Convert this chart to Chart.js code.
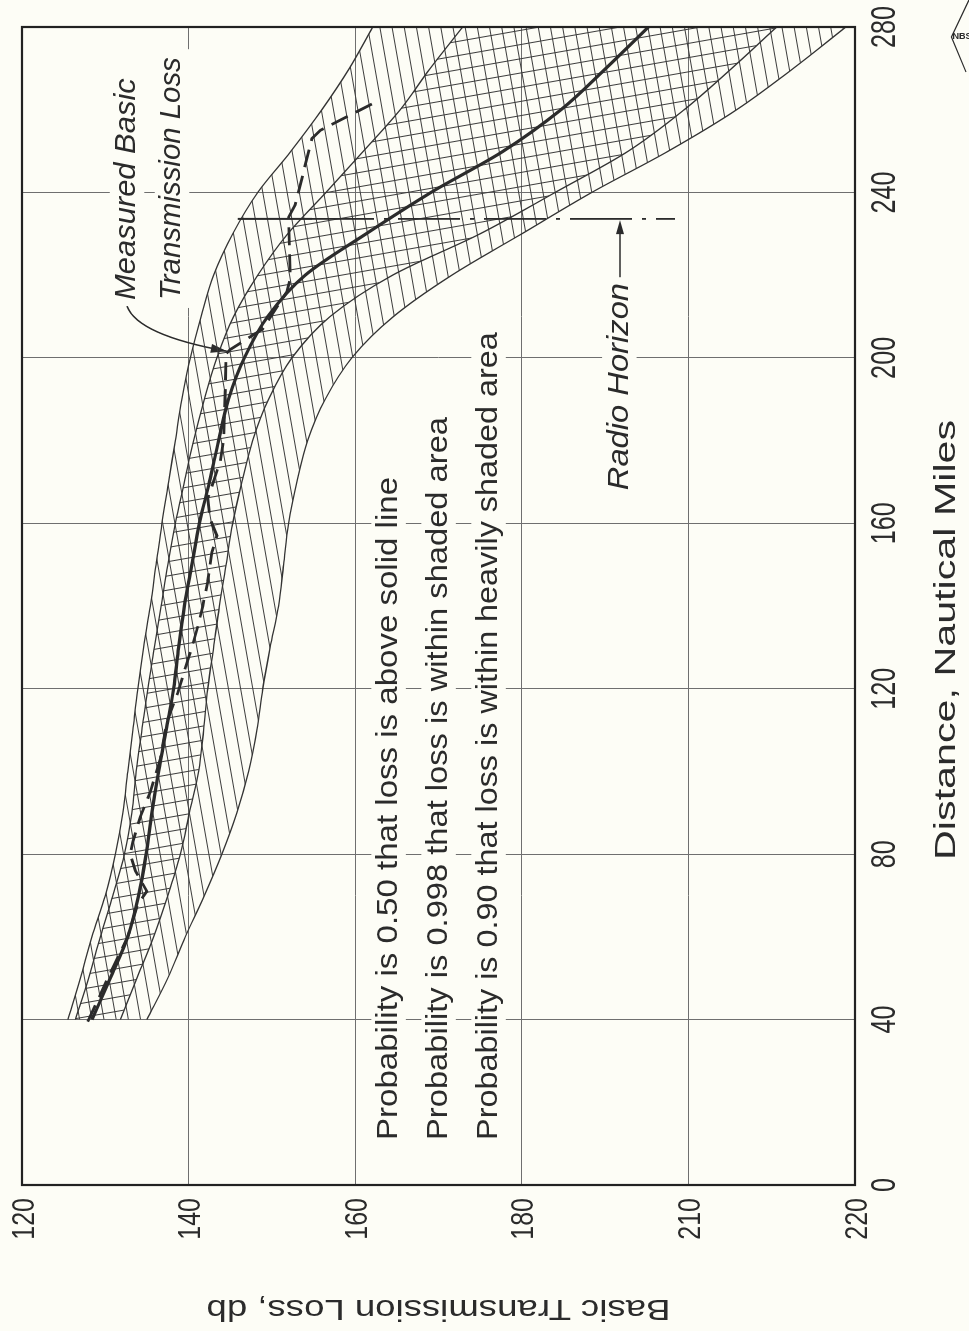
<!DOCTYPE html>
<html>
<head>
<meta charset="utf-8">
<title>Basic Transmission Loss vs Distance</title>
<script src="https://cdn.jsdelivr.net/npm/chart.js@4.4.1/dist/chart.umd.min.js"></script>
<style>
  html, body { margin: 0; padding: 0; background: #fdfdf6; overflow: hidden; }
  /* the figure is printed turned a quarter turn, so the whole canvas is turned */
  #turn { position: absolute; left: 0; top: 0; width: 1331px; height: 969px;
          transform-origin: 0 0; transform: translate(0, 1331px) rotate(-90deg); }
</style>
</head>
<body>
<div id="turn"><canvas id="lossChart" width="1331" height="969"></canvas></div>
<script>
// distance (nautical miles) where the prediction curves were read
const distances = [40, 50, 60, 70, 80, 90, 100, 110, 120, 130, 140, 150, 160, 170, 180, 190, 200, 210, 220, 230, 240, 250, 260, 270, 280];

// basic transmission loss, db
const medianLoss     = [128.4, 130.6, 132.7, 134.0, 134.9, 135.6, 136.4, 137.3, 138.2, 138.8, 139.5, 140.4, 141.3, 142.5, 143.6, 144.8, 146.7, 149.5, 154.0, 161.3, 169.1, 177.8, 184.7, 190.1, 195.2];
const inner90Upper   = [126.4, 128.0, 129.4, 130.9, 132.3, 133.2, 133.7, 134.4, 135.1, 135.9, 136.7, 137.5, 138.4, 139.5, 140.6, 141.9, 143.4, 145.4, 148.3, 151.9, 156.5, 161.0, 165.4, 169.0, 172.9];
const inner90Lower   = [131.8, 133.8, 135.8, 137.5, 139.0, 140.1, 141.2, 141.8, 142.3, 143.0, 143.7, 144.5, 145.3, 146.4, 147.7, 149.6, 152.4, 157.0, 164.5, 175.0, 184.0, 192.8, 199.5, 205.2, 210.6];
const outer998Upper  = [125.5, 127.0, 128.4, 130.0, 131.2, 132.1, 132.7, 133.3, 133.9, 134.6, 135.4, 136.1, 136.8, 137.6, 138.4, 139.2, 140.2, 141.5, 143.0, 145.3, 148.3, 152.3, 156.0, 159.3, 162.1];
const outer998Lower  = [135.0, 137.5, 139.6, 141.9, 144.0, 145.8, 147.2, 148.2, 148.9, 149.8, 150.8, 151.4, 152.0, 153.0, 154.3, 156.4, 159.6, 164.6, 171.6, 180.0, 188.4, 197.6, 205.8, 212.6, 218.9];

// measured basic transmission loss (dashed)
const measuredDist = [39.5, 46, 50, 60, 68, 71, 76, 80, 83, 89, 95, 103, 112, 119, 125, 130, 135, 140, 146, 153, 157, 161, 166, 175, 180, 192, 201, 202, 207, 216, 219, 234, 237, 253, 255, 262];
const measuredLoss = [127.9, 129.4, 130.3, 132.7, 133.9, 135.0, 133.6, 133.0, 133.3, 134.2, 135.4, 136.6, 137.4, 138.7, 139.6, 140.4, 141.1, 141.7, 142.3, 142.8, 143.4, 142.6, 142.3, 143.8, 144.2, 144.4, 144.5, 145.0, 148.9, 151.8, 152.2, 152.0, 152.8, 154.8, 155.8, 162.6];

// radio horizon marker
const horizonDist = 233.6;
const horizonSolidLoss = [145.9, 154.8];
const horizonDashLoss = [154.8, 198.4];

// axes
const distTicks = [0, 40, 80, 120, 160, 200, 240, 280];
const distTickLabels = ['0', '40', '80', '120', '160', '200', '240', '280'];
const lossTicks = [120, 140, 160, 180, 200, 220];
const lossTickLabels = ['120', '140', '160', '180', '210', '220'];

const PAGE = '#fdfdf6';
const INK = '#2b2b2b';
const SANS = '"Liberation Sans", Arial, sans-serif';

const canvas = document.getElementById('lossChart');
const ctx = canvas.getContext('2d');

function pts(xs, ys) {
  return xs.map((x, i) => ({ x: x, y: ys[i] }));
}

// hatch tiles; horizontal canvas lines end up upright on the page
function hatch(w, h, across, along) {
  const c = document.createElement('canvas');
  c.width = w; c.height = h;
  const g = c.getContext('2d');
  g.strokeStyle = '#3c3c3c';
  g.lineWidth = 1;
  g.beginPath();
  if (across) { g.moveTo(0, 0.5); g.lineTo(w, 0.5); }
  if (along) { g.moveTo(0.5, 0); g.lineTo(0.5, h); }
  g.stroke();
  const p = ctx.createPattern(c, 'repeat');
  p.setTransform(new DOMMatrix().rotate(-10));
  return p;
}
const lightHatch = hatch(14, 12, true, false);
const crossHatch = hatch(14, 12, false, true);

// draw text squeezed/stretched to a given width
function fitText(g, text, x, y, size, style, width, opts) {
  opts = opts || {};
  g.save();
  g.font = style + ' ' + size + 'px ' + SANS;
  const natural = g.measureText(text).width;
  const sx = width ? width / natural : (opts.squeeze || 1);
  const w = natural * sx;
  g.translate(x, y);
  if (opts.rotate) g.rotate(opts.rotate);
  let x0 = 0;
  if (opts.align === 'center') x0 = -w / 2;
  else if (opts.align === 'right') x0 = -w;
  if (opts.erase) {
    g.fillStyle = PAGE;
    g.fillRect(x0 - 8, -size * 0.85, w + 16, size * 1.15);
  }
  g.scale(sx, 1);
  g.fillStyle = INK;
  g.textAlign = 'left';
  g.textBaseline = 'alphabetic';
  g.fillText(text, x0 / sx, 0);
  g.restore();
}

function arrowHead(g, x, y, ang, len, half) {
  g.save();
  g.translate(x, y);
  g.rotate(ang);
  g.beginPath();
  g.moveTo(0, 0);
  g.lineTo(-len, -half);
  g.lineTo(-len, half);
  g.closePath();
  g.fill();
  g.restore();
}

const notes = [
  { text: 'Probability is 0.50 that loss is above solid line', from: 10.9, to: 171.2, loss: 165.0, style: '' },
  { text: 'Probability is 0.998 that loss is within shaded area', from: 10.9, to: 185.7, loss: 171.0, style: '' },
  { text: 'Probability is 0.90 that loss is within heavily shaded area', from: 10.9, to: 206.2, loss: 177.0, style: '' },
  { text: 'Radio Horizon', from: 168.0, to: 218.1, loss: 192.7, style: 'italic' },
  { text: 'Measured Basic', from: 214.0, to: 267.6, loss: 133.6, style: 'italic' },
  { text: 'Transmission Loss', from: 214.0, to: 272.7, loss: 139.0, style: 'italic' }
];

const paperPlugin = {
  id: 'paper',
  beforeDatasetsDraw(chart) {
    const g = chart.ctx;
    const xs = chart.scales.x, ys = chart.scales.y;
    const area = chart.chartArea;

    // tick labels
    xs.ticks.forEach(t => {
      const i = distTicks.indexOf(t.value);
      fitText(g, distTickLabels[i], xs.getPixelForValue(t.value), area.bottom + 40, 35, '', null, { squeeze: 0.72, align: 'center' });
    });
    ys.ticks.forEach(t => {
      const i = lossTicks.indexOf(t.value);
      fitText(g, lossTickLabels[i], area.left - 13, ys.getPixelForValue(t.value) + 11.5, 32, '', null, { squeeze: 0.78, align: 'right' });
    });

    // axis titles
    fitText(g, 'Basic Transmission Loss, db', 31, (area.top + area.bottom) / 2, 30, '', 464, { rotate: -Math.PI / 2, align: 'center' });
    const tx0 = xs.getPixelForValue(78.6), tx1 = xs.getPixelForValue(185.0);
    fitText(g, 'Distance, Nautical Miles', tx0, 955, 30, '', tx1 - tx0);

    // notes inside the plot
    notes.forEach(n => {
      const a = xs.getPixelForValue(n.from), b = xs.getPixelForValue(n.to);
      fitText(g, n.text, a, ys.getPixelForValue(n.loss), 30, n.style, b - a, { erase: true });
    });

    g.save();
    g.strokeStyle = INK;
    g.fillStyle = INK;
    g.lineWidth = 1.5;
    // radio horizon arrow
    const ay = ys.getPixelForValue(191.8);
    const ax0 = xs.getPixelForValue(219.5), ax1 = xs.getPixelForValue(233.3);
    g.beginPath();
    g.moveTo(ax0, ay);
    g.lineTo(ax1 - 10, ay);
    g.stroke();
    arrowHead(g, ax1, ay, 0, 14, 4);

    // leader to the measured curve
    const p0 = [xs.getPixelForValue(212.5), ys.getPixelForValue(132.6)];
    const pc = [xs.getPixelForValue(205.5), ys.getPixelForValue(133.9)];
    const p1 = [xs.getPixelForValue(201.6), ys.getPixelForValue(144.6)];
    g.beginPath();
    g.moveTo(p0[0], p0[1]);
    g.quadraticCurveTo(pc[0], pc[1], p1[0], p1[1]);
    g.stroke();
    arrowHead(g, p1[0], p1[1], Math.atan2(p1[1] - pc[1], p1[0] - pc[0]), 16, 4.5);

    // NBS mark in the corner
    g.lineWidth = 1.2;
    g.beginPath();
    g.moveTo(1331, 969);
    g.lineTo(1294, 951.5);
    g.lineTo(1259, 966);
    g.stroke();
    g.translate(1294, 962);
    g.rotate(Math.PI / 2);
    g.font = 'bold 9px ' + SANS;
    g.textAlign = 'center';
    g.textBaseline = 'middle';
    g.fillText('NBS', 0, 0);
    g.restore();
  },
  afterDatasetsDraw(chart) {
    const g = chart.ctx;
    const a = chart.chartArea;
    g.save();
    g.strokeStyle = '#222';
    g.lineWidth = 2.2;
    g.strokeRect(a.left, a.top, a.right - a.left, a.bottom - a.top);
    g.restore();
  }
};

const curve = {
  pointRadius: 0,
  borderColor: '#333',
  borderWidth: 1.3,
  cubicInterpolationMode: 'monotone',
  fill: false
};

new Chart(ctx, {
  type: 'line',
  data: {
    datasets: [
      { label: 'Median', data: pts(distances, medianLoss), borderColor: INK, borderWidth: 3.2, pointRadius: 0, cubicInterpolationMode: 'monotone', fill: false },
      { label: 'Measured', data: pts(measuredDist, measuredLoss), borderColor: INK, borderWidth: 2.8, borderDash: [18, 9], pointRadius: 0, tension: 0, fill: false },
      { label: 'Radio horizon', data: pts([horizonDist, horizonDist], horizonDashLoss), borderColor: INK, borderWidth: 1.8, borderDash: [62, 10, 4, 10], pointRadius: 0, fill: false },
      { label: 'Radio horizon tick', data: pts([horizonDist, horizonDist], horizonSolidLoss), borderColor: INK, borderWidth: 2, pointRadius: 0, fill: false },
      Object.assign({ label: '0.90 upper', data: pts(distances, inner90Upper), backgroundColor: crossHatch }, curve, { fill: '+1' }),
      Object.assign({ label: '0.90 lower', data: pts(distances, inner90Lower) }, curve),
      Object.assign({ label: '0.998 upper', data: pts(distances, outer998Upper), backgroundColor: lightHatch }, curve, { fill: '+1' }),
      Object.assign({ label: '0.998 lower', data: pts(distances, outer998Lower) }, curve)
    ]
  },
  options: {
    responsive: false,
    animation: false,
    devicePixelRatio: 1,
    layout: { padding: { left: 0, right: 27, top: 22, bottom: 0 } },
    plugins: { legend: { display: false }, tooltip: { enabled: false } },
    scales: {
      x: {
        type: 'linear',
        min: 0,
        max: 280,
        afterBuildTicks: s => { s.ticks = distTicks.map(v => ({ value: v })); },
        afterFit: s => { s.height = 114; },
        ticks: { display: false },
        grid: { color: '#6f6f6f', lineWidth: 1, drawTicks: false },
        border: { display: false }
      },
      y: {
        type: 'linear',
        min: 120,
        max: 220,
        reverse: true,
        afterBuildTicks: s => { s.ticks = lossTicks.map(v => ({ value: v })); },
        afterFit: s => { s.width = 146; },
        ticks: { display: false },
        grid: { color: '#6f6f6f', lineWidth: 1, drawTicks: false },
        border: { display: false }
      }
    }
  },
  plugins: [paperPlugin]
});
</script>
</body>
</html>
